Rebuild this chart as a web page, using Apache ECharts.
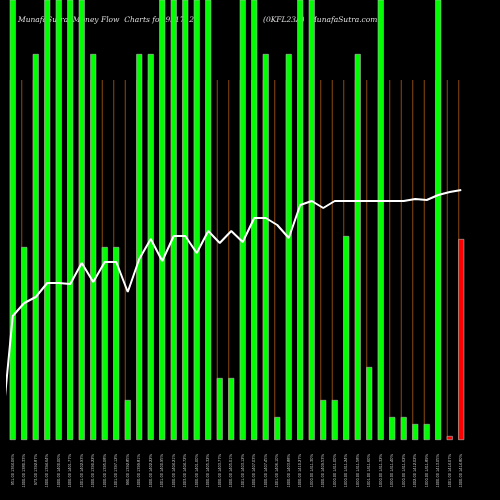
<!DOCTYPE html>
<html><head><meta charset="utf-8">
<script src="https://cdn.jsdelivr.net/npm/echarts@6/dist/echarts.min.js"></script>
<style>html,body{margin:0;padding:0;background:#000}#c{width:500px;height:500px}</style>
</head><body><div id="c"></div>
<script>
const categories = ["951.00 1364.06%","1000.00 1380.33%","973.00 1392.87%","1000.00 1394.64%","1000.00 1400.00%","1000.00 1401.77%","1001.00 1402.93%","1000.00 1390.22%","1000.00 1395.08%","1001.00 1397.12%","990.00 1392.85%","1000.00 1399.81%","1000.00 1402.22%","1001.00 1400.95%","1000.00 1404.21%","1003.00 1404.72%","1000.00 1401.00%","1000.00 1405.32%","1000.00 1403.77%","1000.00 1405.01%","1001.00 1403.12%","1000.00 1407.03%","1000.00 1407.45%","1001.00 1406.10%","1000.00 1403.88%","1000.00 1410.27%","1000.00 1411.30%","1000.00 1409.53%","1000.00 1411.00%","1000.00 1411.24%","1000.00 1411.58%","1001.00 1411.60%","1000.00 1411.32%","1000.00 1411.40%","1000.00 1411.62%","1002.00 1412.02%","1000.00 1411.89%","1000.00 1413.05%","1001.00 1414.07%","1000.00 1414.80%"];
const flowValues = [500,193,386,500,500,500,500,386,193,193,40,386,386,500,500,500,500,500,62,62,500,500,386,23,386,500,500,40,40,204,386,73,500,23,23,16,16,500,4,201];
const flowColors = ["g","g","g","g","g","g","g","g","g","g","g","g","g","g","g","g","g","g","g","g","g","g","g","g","g","g","g","g","g","g","g","g","g","g","g","g","g","g","r","r"];
const lineValues = [124,137,143,157,157,156,177,158,178,178,148,181,201,179,204,204,187,209,197,209,198,222,222,215,202,235,239,232,239,239,239,239,239,239,239,241,240,245,248,250];
const guideValues = categories.map(()=>360);

const chart = echarts.init(document.getElementById('c'));
const linePts = [[-1.04,0]].concat(lineValues.map((v,i)=>[i,v]));
chart.setOption({
  backgroundColor:'#000',
  animation:false,
  graphic:[
    {type:'text',left:18,top:16,z:0,style:{text:'MunafaSutra  Money Flow  Charts for 951712',fill:'#ddd',font:'italic 7.5px "DejaVu Serif", serif'}},
    {type:'text',left:263,top:16,z:0,style:{text:'(0KFL23A)  MunafaSutra.com',fill:'#ddd',font:'italic 7.5px "DejaVu Serif", serif'}}
  ],
  grid:{left:7,right:33,top:0,bottom:60},
  xAxis:[
    {type:'category',data:categories,axisLine:{show:false},axisTick:{show:false},
     axisLabel:{rotate:90,color:'#ccc',fontSize:4,interval:0,margin:14}},
    {type:'value',min:-0.5,max:39.5,show:false}
  ],
  yAxis:{type:'value',min:0,max:440,show:false,splitLine:{show:false}},
  series:[
    {type:'bar',data:guideValues,barWidth:1,barGap:'-100%',z:2,itemStyle:{color:'#8B4a10'}},
    {type:'bar',barWidth:6,barGap:'-100%',z:3,
     data:flowValues.map((v,i)=>({value:v,itemStyle:{color:flowColors[i]==='r'?'#ff0000':'#00ff00'}})),
     itemStyle:{borderColor:'#bbb',borderWidth:0.6}},
    {type:'line',xAxisIndex:1,data:linePts,showSymbol:false,clip:false,z:4,
     lineStyle:{color:'#fff',width:2}}
  ]
});
</script></body></html>
